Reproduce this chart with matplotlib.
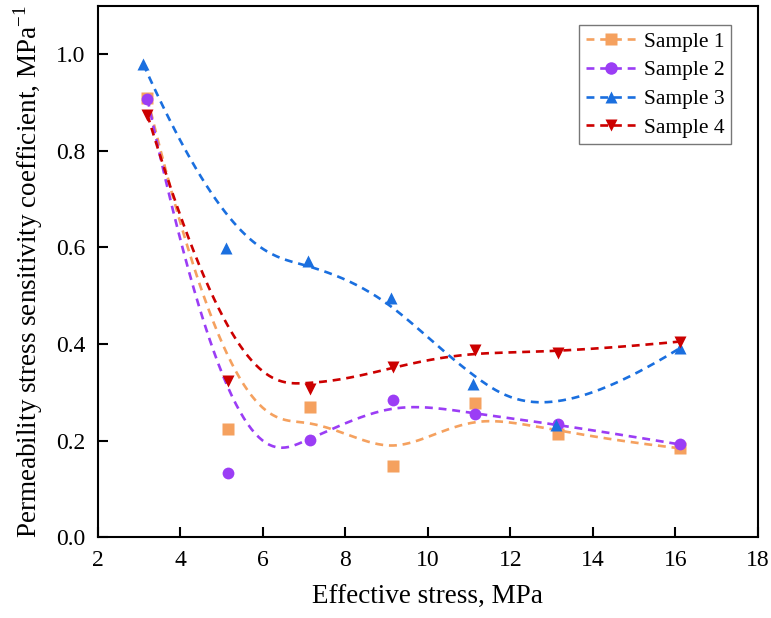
import numpy as np
import matplotlib
matplotlib.use("Agg")
import matplotlib.pyplot as plt

plt.rcParams['font.family'] = ['Liberation Serif', 'DejaVu Serif']
plt.rcParams['mathtext.fontset'] = 'custom'
plt.rcParams['mathtext.rm'] = 'Liberation Serif'

# effective stress, MPa
x_s1 = [3.2, 5.15, 7.15, 9.15, 11.15, 13.15, 16.1]
x_s2 = [3.2, 5.15, 7.15, 9.15, 11.15, 13.15, 16.1]
x_s3 = [3.1, 5.1, 7.1, 9.1, 11.1, 13.1, 16.1]
x_s4 = [3.2, 5.15, 7.15, 9.15, 11.15, 13.15, 16.1]

# stress sensitivity coefficient, MPa^-1
y_s1 = [0.91, 0.223, 0.269, 0.148, 0.277, 0.213, 0.184]
y_s2 = [0.908, 0.132, 0.201, 0.285, 0.254, 0.234, 0.192]
y_s3 = [0.98, 0.598, 0.571, 0.495, 0.317, 0.232, 0.391]
y_s4 = [0.875, 0.324, 0.307, 0.352, 0.388, 0.381, 0.405]

labels = ['Sample 1', 'Sample 2', 'Sample 3', 'Sample 4']
colors = ['#F5A15F', '#9B3DF5', '#1A6FDF', '#CC0000']
markers = ['s', 'o', '^', 'v']


# clamped cubic B-spline using the data points as control points
def bspline(px, py, n=300, k=3):
    P = np.column_stack([px, py])
    m = len(P)
    inner = np.arange(1, m - k)
    knots = np.concatenate([np.zeros(k + 1), inner, np.full(k + 1, m - k)]).astype(float)
    t = np.linspace(0, m - k, n)
    t[-1] -= 1e-9
    out = np.zeros((n, 2))
    for j, tt in enumerate(t):
        # Cox-de Boor basis
        N = np.array([1.0 if knots[i] <= tt < knots[i + 1] else 0.0 for i in range(len(knots) - 1)])
        for d in range(1, k + 1):
            Nn = np.zeros(len(knots) - 1 - d)
            for i in range(len(Nn)):
                a = 0.0
                if knots[i + d] != knots[i]:
                    a = (tt - knots[i]) / (knots[i + d] - knots[i]) * N[i]
                b = 0.0
                if knots[i + d + 1] != knots[i + 1]:
                    b = (knots[i + d + 1] - tt) / (knots[i + d + 1] - knots[i + 1]) * N[i + 1]
                Nn[i] = a + b
            N = Nn
        out[j] = N @ P
    return out[:, 0], out[:, 1]


fig = plt.figure(figsize=(7.71, 6.18), dpi=100)
ax = fig.add_axes([0.127, 0.131, 0.856, 0.859])

xs = [x_s1, x_s2, x_s3, x_s4]
ys = [y_s1, y_s2, y_s3, y_s4]
for x, y, lab, c, mk in zip(xs, ys, labels, colors, markers):
    cx, cy = bspline(x, y)
    ax.plot(cx, cy, '--', color=c, lw=1.9, dashes=(3, 2.2))
    ax.plot(x, y, linestyle='none', marker=mk, color=c, ms=8.5, mec='none')
    # legend proxy
    ax.plot([], [], '--', color=c, lw=1.9, dashes=(3, 2.2), marker=mk, ms=9, mec='none', label=lab)

ax.set_xlim(2, 18)
ax.set_ylim(0, 1.1)
ax.set_xticks(np.arange(2, 19, 2))
ax.set_yticks(np.arange(0, 1.01, 0.2))
ax.yaxis.set_major_formatter(matplotlib.ticker.FormatStrFormatter('%.1f'))
ax.tick_params(direction='in', length=7, width=1.5, labelsize=17)
ax.tick_params(axis='x', pad=9)
ax.tick_params(axis='y', pad=9)
for s in ax.spines.values():
    s.set_linewidth(1.5)

ax.set_xlabel('Effective stress, MPa', fontsize=19.5, labelpad=10)
ax.set_ylabel('Permeability stress sensitivity coefficient, MPa$^{-1}$', fontsize=19.5, labelpad=8)

leg = ax.legend(loc='upper right', bbox_to_anchor=(0.959, 0.964), fontsize=15.5, frameon=True,
                fancybox=False, edgecolor='#555555', handlelength=2.4, handletextpad=0.3,
                labelspacing=0.4, borderpad=0.3, borderaxespad=0)
leg.get_frame().set_linewidth(1.0)

fig.savefig('out.png', dpi=100)
